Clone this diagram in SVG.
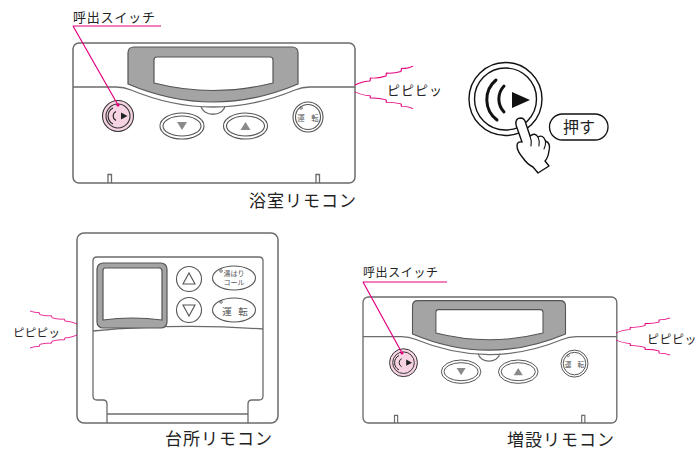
<svg xmlns="http://www.w3.org/2000/svg" xmlns:xlink="http://www.w3.org/1999/xlink" width="698" height="451" viewBox="0 0 698 451">
  <style>
    .body { fill: #fff; stroke: #6b6b6b; stroke-width: 1.5; }
    .ln { fill: none; stroke: #6b6b6b; stroke-width: 1.3; }
    .bezel { fill: #a4a4a4; stroke: #555; stroke-width: 1.2; }
    .screen { fill: #fff; stroke: #555; stroke-width: 1.2; }
    .btn { fill: #fff; stroke: #555; stroke-width: 1.1; }
    .call { fill: #f7d4e4; stroke: #333; stroke-width: 1.1; }
    .pink { fill: none; stroke: #e4007f; stroke-width: 1.2; }
    .zz { fill: none; stroke: #e4007f; stroke-width: 1.2; stroke-linejoin: miter; }
    .ink { fill: none; stroke: #111; stroke-width: 1.4; }
    .jp { font-family: "Noto Sans CJK JP", "Noto Sans", sans-serif; fill: #222; }
    .tiny { font-family: "Noto Sans CJK JP", "Noto Sans", sans-serif; fill: #555; }
  </style>
  <defs>
    <!-- sound waves coming off a remote -->
    <path id="zz" d="M0,0 C5,-3 10,-5 15,-5 L15.5,-8.5 C21,-8 26,-9 31,-11 L31.5,-14.5 C37,-14 42,-15 46,-16.5 L46.5,-20 C51,-20 55,-21 58,-23"/>

    <!-- wall-mounted remote (bath / extension type), drawn at bath position -->
    <g id="wall-remote">
      <rect class="body" x="73" y="43" width="282" height="140" rx="6"/>
      <path class="ln" d="M201,106 C203,117 223,117 225,106"/>
      <path class="ln" d="M73,87 H116 Q124,87 131,90 Q213,124 295,90 Q302,87 310,87 H355"/>
      <path class="bezel" d="M134,47 H292 Q298,47 298,53 V84 Q213,120 128,84 V53 Q128,47 134,47 Z"/>
      <path class="screen" d="M157,57 H270 Q273,57 273,60 V83 Q213,98 154,83 V60 Q154,57 157,57 Z"/>
      <!-- down / up keys -->
      <ellipse class="btn" cx="182" cy="126" rx="22" ry="13"/>
      <ellipse class="btn" cx="182" cy="126" rx="19" ry="10"/>
      <path d="M177,122 H187 L182,130 Z" fill="#8a8a8a"/>
      <ellipse class="btn" cx="245.5" cy="126" rx="22" ry="13"/>
      <ellipse class="btn" cx="245.5" cy="126" rx="19" ry="10"/>
      <path d="M240.5,130 H250.5 L245.5,122 Z" fill="#8a8a8a"/>
      <!-- run key -->
      <circle class="btn" cx="308" cy="117" r="15"/>
      <circle class="btn" cx="308" cy="117" r="12.5"/>
      <circle cx="301" cy="108" r="1.3" fill="none" stroke="#555" stroke-width="0.8"/>
      <text class="tiny" x="301" y="121" font-size="7.5" text-anchor="middle">運</text>
      <text class="tiny" x="315" y="121" font-size="7.5" text-anchor="middle">転</text>
      <!-- call key -->
      <circle class="call" cx="118" cy="116" r="15.5"/>
      <circle class="call" cx="118" cy="116" r="12"/>
      <path d="M113,108 A9,9 0 0 0 113,124" fill="none" stroke="#222" stroke-width="1.1"/>
      <path d="M116,111.5 A5,5 0 0 0 116,120.5" fill="none" stroke="#222" stroke-width="1.1"/>
      <path d="M121,112.5 L127.5,116 L121,119.5 Z" fill="#222"/>
      <!-- hanger tabs -->
      <path class="ln" d="M108,183 V174.5 H111.5 V183"/>
      <path class="ln" d="M316,183 V174.5 H319.5 V183"/>
    </g>
  </defs>

  <!-- bath remote -->
  <g id="bath-remote">
    <use xlink:href="#wall-remote" href="#wall-remote"/>
    <text class="jp" x="249" y="207" font-size="17" letter-spacing="1">浴室リモコン</text>
  </g>

  <g id="bath-call-label">
    <text class="jp" x="73" y="22" font-size="13" letter-spacing="0.8">呼出スイッチ</text>
  </g>

  <g id="bath-beep">
    <text class="jp" x="387" y="95" font-size="13" letter-spacing="1">ピピピッ</text>
  </g>

  <!-- pressing the call key -->
  <g id="press-illustration">
    <circle class="ink" cx="505.5" cy="99" r="36.5"/>
    <circle class="ink" cx="505.5" cy="99" r="31"/>
    <path d="M496,80 A25.5,25.5 0 0 0 497,120" fill="none" stroke="#111" stroke-width="3" stroke-linecap="round"/>
    <path d="M504,86 A19,19 0 0 0 504,112" fill="none" stroke="#111" stroke-width="3" stroke-linecap="round"/>
    <path d="M512,92 L530,100 L512,108 Z" fill="#111"/>
    <path d="M516,125 Q515,118 521,118 Q525,118.5 526,124 L530,136 Q535,132 538,137 Q543,134 545.5,141 Q551,143 549,151 Q548,158 545,161 L549,166 L538,173 L533,167 Q527,164 523,158 Q517,151 517,146 Q517,141 522,142 Z" fill="#fff" stroke="#111" stroke-width="1.4" stroke-linejoin="round"/>
    <path d="M530,136 Q532,141 531,146 M538,137 Q540,141 539,146 M545.5,141 Q546,145 544,149" fill="none" stroke="#111" stroke-width="1.1" stroke-linecap="round"/>
  </g>

  <g id="push-tag">
    <rect x="549.5" y="114" width="58.5" height="26" rx="13" fill="#fff" stroke="#111" stroke-width="1.3"/>
    <text class="jp" x="579" y="133" font-size="16" text-anchor="middle" fill="#111">押す</text>
  </g>

  <!-- kitchen remote -->
  <g id="kitchen-remote">
    <rect class="body" x="77" y="233" width="201" height="190" rx="7"/>
    <path class="ln" d="M107,423 V404 Q107,400 103,400 H97 Q93,400 93,396 V261 Q93,257 97,257 H259 Q263,257 263,261 V396 Q263,400 259,400 H252 Q248,400 248,404 V423"/>
    <path class="ln" d="M107,414 H248"/>
    <path class="ln" d="M93,331 Q178,323 263,329"/>
    <rect class="bezel" x="97" y="263" width="70" height="65" rx="6"/>
    <path class="screen" d="M105,268 H159 Q162,268 162,271 V320 Q132,316 103,320 V271 Q103,268 105,268 Z"/>
    <circle class="btn" cx="189" cy="279" r="12.5"/>
    <path d="M183,284 H195 L189,273 Z" fill="none" stroke="#555" stroke-width="1.1"/>
    <circle class="btn" cx="189" cy="310" r="12.5"/>
    <path d="M183,305 H195 L189,316 Z" fill="none" stroke="#555" stroke-width="1.1"/>
    <ellipse class="btn" cx="234" cy="278" rx="21.5" ry="12"/>
    <circle cx="221" cy="271" r="1.3" fill="none" stroke="#555" stroke-width="0.8"/>
    <text class="tiny" x="234" y="276" font-size="7" text-anchor="middle">湯はり</text>
    <text class="tiny" x="234" y="285" font-size="7" text-anchor="middle">コール</text>
    <ellipse class="btn" cx="234" cy="310" rx="21.5" ry="12"/>
    <circle cx="221" cy="302" r="1.3" fill="none" stroke="#555" stroke-width="0.8"/>
    <text class="tiny" x="227" y="315" font-size="9.5" text-anchor="middle">運</text>
    <text class="tiny" x="243" y="315" font-size="9.5" text-anchor="middle">転</text>
    <text class="jp" x="165" y="445" font-size="17" letter-spacing="1">台所リモコン</text>
  </g>

  <g id="kitchen-beep">
    <text class="jp" x="13" y="337" font-size="11.5" letter-spacing="0.3">ピピピッ</text>
  </g>

  <!-- extension remote -->
  <g id="extension-remote">
    <use xlink:href="#wall-remote" href="#wall-remote" transform="translate(363,297) scale(0.9) translate(-73,-43)"/>
    <text class="jp" x="507" y="446" font-size="17" letter-spacing="1">増設リモコン</text>
  </g>

  <g id="extension-call-label">
    <text class="jp" x="363" y="277" font-size="12" letter-spacing="0.6">呼出スイッチ</text>
  </g>

  <g id="extension-beep">
    <text class="jp" x="647" y="344" font-size="12" letter-spacing="0.5">ピピピッ</text>
  </g>

  <!-- leaders and sound waves -->
  <g id="connectors">
    <path class="pink" d="M73,26 H161 M73,26 L118,105"/>
    <circle cx="118" cy="105" r="1.6" fill="#e4007f"/>
    <path class="pink" d="M363,282 H447 M363,282 L402,353"/>
    <circle cx="402" cy="353" r="1.5" fill="#e4007f"/>

    <use class="zz" xlink:href="#zz" href="#zz" transform="translate(355,85) scale(1,0.82)"/>
    <use class="zz" xlink:href="#zz" href="#zz" transform="translate(355,92) scale(1,-0.72)"/>
    <use class="zz" xlink:href="#zz" href="#zz" transform="translate(77,324) scale(-0.81,0.57)"/>
    <use class="zz" xlink:href="#zz" href="#zz" transform="translate(77,335) scale(-0.81,-0.57)"/>
    <use class="zz" xlink:href="#zz" href="#zz" transform="translate(616,333) scale(0.93,0.66)"/>
    <use class="zz" xlink:href="#zz" href="#zz" transform="translate(616,340) scale(0.93,-0.66)"/>
  </g>
</svg>
